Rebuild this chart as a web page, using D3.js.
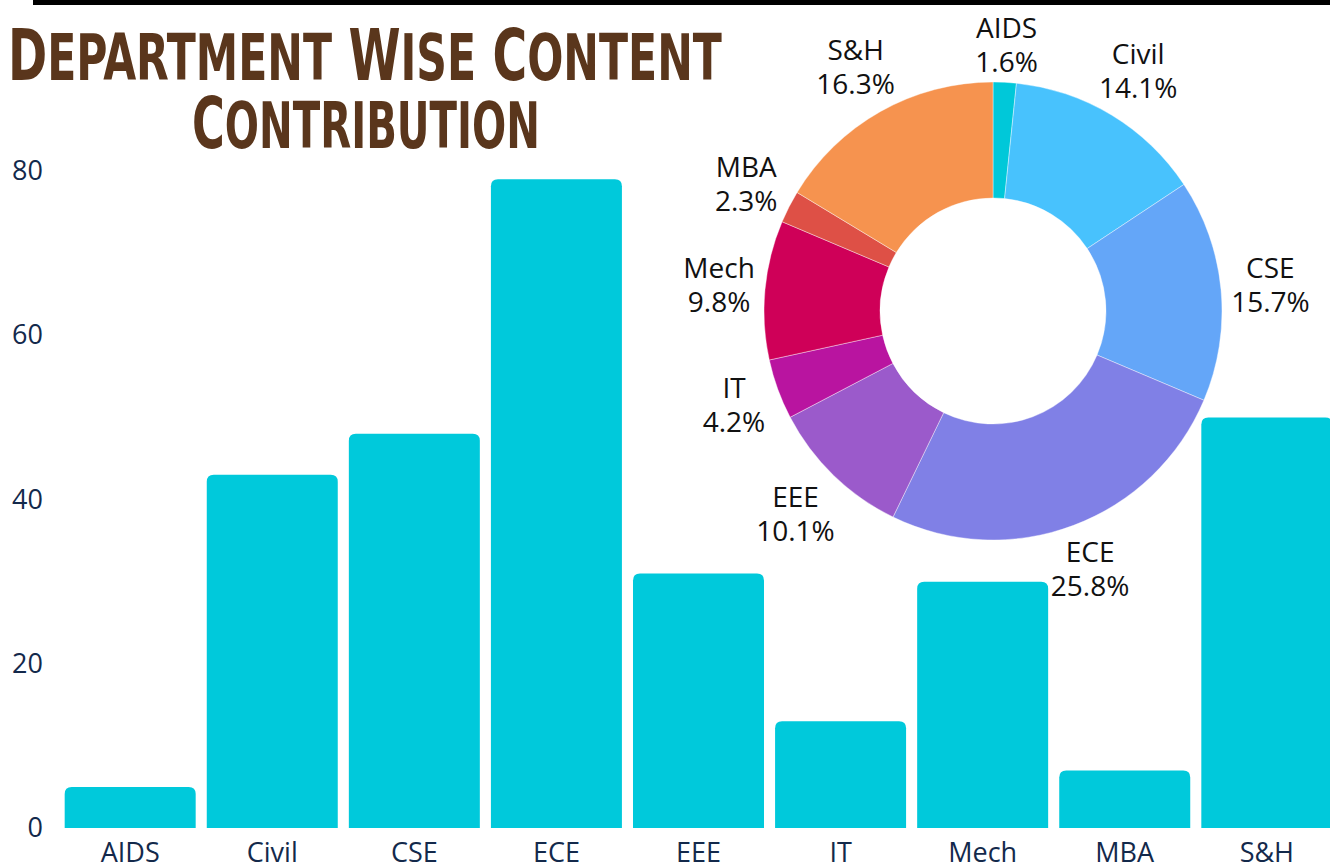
<!DOCTYPE html>
<html>
<head>
<meta charset="utf-8">
<script src="https://cdn.jsdelivr.net/npm/d3@7"></script>
<style>
  html, body { margin: 0; padding: 0; background: #fff; overflow: hidden; }
</style>
</head>
<body>
<div id="app"></div>
<script>
const departments = ["AIDS", "Civil", "CSE", "ECE", "EEE", "IT", "Mech", "MBA", "S&H"];
const contributions = [5, 43, 48, 79, 31, 13, 30, 7, 50];
const yTicks = [0, 20, 40, 60, 80];
const pieColors = ["#00c8d9", "#48c2fd", "#64a6f8", "#8080e6", "#9b5acb", "#b914a0", "#cf0058", "#de5046", "#f6934f"];

const width = 1330, height = 866;
const barColor = "#00c9db";
const axisColor = "#13294b";
const labelFont = "'Open Sans', 'Noto Sans', sans-serif";

const data = departments.map((d, i) => ({ name: d, value: contributions[i], color: pieColors[i] }));

const svg = d3.select("#app")
  .append("svg")
  .attr("width", width)
  .attr("height", height);

// black rule at the top
svg.append("rect")
  .attr("x", 33).attr("y", 0)
  .attr("width", width - 33).attr("height", 5)
  .attr("fill", "#000");

const x = d3.scaleBand()
  .domain(departments)
  .range([59, 1338])
  .paddingInner(0.078)
  .paddingOuter(0.04);

const y = d3.scaleLinear()
  .domain([0, 80])
  .range([828, 171]);

// bars with rounded tops
const topRounded = (x0, y0, w, h, r) => {
  r = Math.min(r, h, w / 2);
  return `M${x0},${y0 + h}V${y0 + r}Q${x0},${y0} ${x0 + r},${y0}H${x0 + w - r}Q${x0 + w},${y0} ${x0 + w},${y0 + r}V${y0 + h}Z`;
};

svg.append("g")
  .selectAll("path")
  .data(data)
  .join("path")
  .attr("fill", barColor)
  .attr("d", d => topRounded(x(d.name), y(d.value), x.bandwidth(), y(0) - y(d.value), 7));

// y axis labels (no lines)
const yAxis = svg.append("g")
  .attr("transform", "translate(43,0)")
  .call(d3.axisLeft(y).tickValues(yTicks).tickSize(0).tickPadding(0));
yAxis.select(".domain").remove();
yAxis.selectAll("text")
  .attr("fill", axisColor)
  .style("font-family", labelFont)
  .style("font-size", "27px");

// x axis labels
const xAxis = svg.append("g")
  .attr("transform", `translate(0,${y(0)})`)
  .call(d3.axisBottom(x).tickSize(0).tickPadding(15));
xAxis.select(".domain").remove();
xAxis.selectAll("text")
  .attr("fill", axisColor)
  .style("font-family", labelFont)
  .style("font-size", "27px");

// title, small caps look, squeezed to width with a transform
const titleFont = "'DejaVu Sans Condensed', 'DejaVu Sans', sans-serif";
const titleLines = [
  { words: ["Department", "Wise", "Content"], x: 8, y: 80, len: 714 },
  { words: ["Contribution"], x: 192, y: 148, len: 348 }
];
titleLines.forEach(line => {
  const g = svg.append("g");
  const t = g.append("text")
    .attr("fill", "#5a361c")
    .style("font-family", titleFont)
    .style("font-weight", "bold");
  line.words.forEach((w, i) => {
    t.append("tspan").style("font-size", "71px").text((i ? " " : "") + w[0]);
    t.append("tspan").style("font-size", "64px").text(w.slice(1).toUpperCase());
  });
  const bb = t.node().getBBox();
  g.attr("transform", `translate(${line.x - bb.x * line.len / bb.width},${line.y}) scale(${line.len / bb.width},1)`);
});

// donut
const cx = 993, cy = 311;
const outerR = 229, innerR = 113;

const pie = d3.pie().sort(null).value(d => d.value);
const arc = d3.arc().innerRadius(innerR).outerRadius(outerR);
const arcs = pie(data);
const total = d3.sum(contributions);

const donut = svg.append("g").attr("transform", `translate(${cx},${cy})`);

donut.selectAll("path")
  .data(arcs)
  .join("path")
  .attr("d", arc)
  .attr("fill", d => d.data.color)
  .attr("stroke", "#fff")
  .attr("stroke-width", 0.4);

const pieLabel = donut.selectAll(".pieLabel")
  .data(arcs)
  .join("text")
  .attr("class", "pieLabel")
  .attr("text-anchor", "middle")
  .attr("fill", "#111")
  .style("font-family", labelFont)
  .style("font-size", "28px");

pieLabel.append("tspan")
  .attr("x", 0).attr("dy", -7.5)
  .text(d => d.data.name);
pieLabel.append("tspan")
  .attr("x", 0).attr("dy", 34)
  .text(d => (d.data.value / total * 100).toFixed(1) + "%");

// push each label box out along the mid angle so it clears the ring
const gap = 8, boxH = 54;
pieLabel.attr("transform", function (d) {
  const a = (d.startAngle + d.endAngle) / 2;
  const w = d3.max(d3.select(this).selectAll("tspan").nodes(), n => n.getComputedTextLength());
  const r = outerR + gap + Math.abs(Math.sin(a)) * w / 2 + Math.abs(Math.cos(a)) * boxH / 2;
  return `translate(${Math.sin(a) * r},${-Math.cos(a) * r})`;
});
</script>
</body>
</html>
